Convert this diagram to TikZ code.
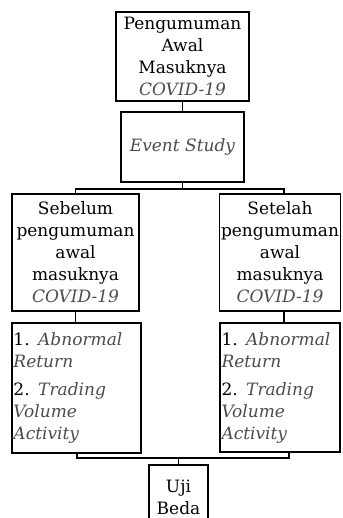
\documentclass[tikz,border=0pt]{standalone}
\usepackage{fontspec}
\setmainfont{DejaVu Serif}
\usepackage{tikz}
\definecolor{ig}{rgb}{.3,.3,.3}
\newcommand{\ital}[1]{{\itshape\color{ig}#1}}

\begin{document}
\begin{tikzpicture}
  [x=1bp, y=-1bp,
   box/.style={draw, line width=1.6bp, inner sep=1.5bp,
     font=\fontsize{17bp}{22bp}\selectfont, align=center},
   listbox/.style={box, align=left},
   link/.style={line width=1.4bp}]
  \clip (0,0) rectangle (342,518);
    \node[box, minimum width=133bp, minimum height=89bp]
      (pengumuman) at (182.5,56.5) {Pengumuman\\Awal\\Masuknya\\\ital{COVID-19}};
    \node[box, minimum width=123bp, minimum height=70bp]
      (event) at (182.5,147) {\ital{Event Study}};
    \node[box, minimum width=127bp, minimum height=117bp]
      (sebelum) at (75.5,252.5) {Sebelum\\pengumuman\\awal\\masuknya\\\ital{COVID-19}};
    \node[box, minimum width=120bp, minimum height=117bp]
      (setelah) at (280,252.5) {Setelah\\pengumuman\\awal\\masuknya\\\ital{COVID-19}};
    \node[listbox, text width=126bp, minimum height=130bp]
      (varL) at (76.5,388) {1. \ital{Abnormal}\\\ital{Return}\\[6bp]2. \ital{Trading}\\\ital{Volume}\\\ital{Activity}};
    \node[listbox, text width=117bp, minimum height=129bp]
      (varR) at (280,387.5) {1. \ital{Abnormal}\\\ital{Return}\\[6bp]2. \ital{Trading}\\\ital{Volume}\\\ital{Activity}};
    \node[box, minimum width=59bp, minimum height=65bp]
      (uji) at (178.5,497.5) {Uji\\Beda};
    % junctions
    \coordinate (upL) at (76,189);
    \coordinate (upR) at (284,189);
    \coordinate (dnL) at (77,458);
    \coordinate (dnR) at (289,458);
    \draw[link] (pengumuman.south) -- (event.north);
    \draw[link] (event.south) -- (event.south |- upL);
    \draw[link] (sebelum.north) |- (upR) -- (upR |- setelah.north);
    \draw[link] (sebelum.south) -- (sebelum.south |- varL.north);
    \draw[link] (upR |- setelah.south) -- (upR |- varR.north);
    \draw[link] (varL.south -| dnL) -- (dnL) -- (dnR) -- (dnR |- varR.south);
    \draw[link] (uji.north) -- (uji.north |- dnL);
\end{tikzpicture}
\end{document}
